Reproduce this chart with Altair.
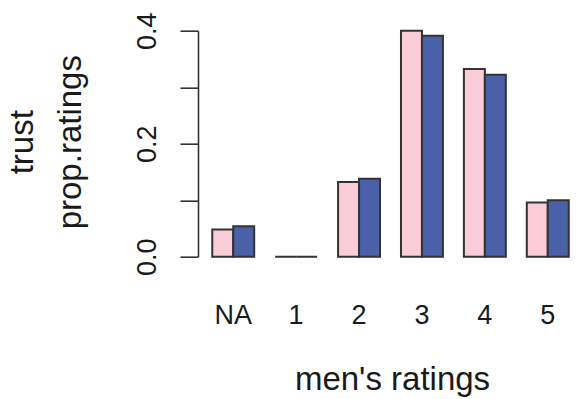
import altair as alt
import pandas as pd

# Proportion of ratings per rating level, two groups side by side
categories = ["NA", "1", "2", "3", "4", "5"]
series_names = ["group 1", "group 2"]
group1_props = [0.048, 0.0, 0.132, 0.400, 0.332, 0.096]
group2_props = [0.054, 0.0, 0.138, 0.391, 0.322, 0.100]
bar_colors = ["#F9CCD7", "#4A60A8"]
y_ticks = [0.0, 0.1, 0.2, 0.3, 0.4]

rows = []
for cat, a, b in zip(categories, group1_props, group2_props):
    rows.append({"rating": cat, "series": series_names[0], "prop": a})
    rows.append({"rating": cat, "series": series_names[1], "prop": b})
df = pd.DataFrame(rows)

FONT = "Liberation Sans"
INK = "#1a1a1a"

chart = (
    alt.Chart(df)
    .mark_bar(stroke="#333333", strokeWidth=2, cornerRadius=0)
    .encode(
        x=alt.X(
            "rating:N",
            sort=categories,
            scale=alt.Scale(paddingInner=1 / 3, paddingOuter=0.2267),
            axis=alt.Axis(
                title="men's ratings",
                domain=False,
                ticks=False,
                grid=False,
                labelAngle=0,
                labelBaseline="alphabetic",
                labelPadding=67,
                labelFontSize=27,
                labelFont=FONT,
                labelColor=INK,
                titleFont=FONT,
                titleFontSize=33,
                titleFontWeight="normal",
                titleColor=INK,
                titleBaseline="alphabetic",
                titleX=194,
                titleY=133,
            ),
        ),
        xOffset=alt.XOffset(
            "series:N",
            sort=series_names,
            scale=alt.Scale(paddingInner=0, paddingOuter=0),
        ),
        y=alt.Y(
            "prop:Q",
            scale=alt.Scale(domain=[0, 0.4], nice=False, zero=True),
            axis=alt.Axis(
                title=["trust", "prop.ratings"],
                values=y_ticks,
                labelExpr="indexof(['0.0','0.2','0.4'], format(datum.value, '.1f')) >= 0 ? format(datum.value, '.1f') : ''",
                labelAngle=270,
                labelAlign="center",
                labelBaseline="alphabetic",
                labelPadding=25,
                labelOverlap=False,
                labelFontSize=27,
                labelFont=FONT,
                labelColor=INK,
                tickSize=18,
                tickWidth=1.6,
                tickColor="#333333",
                domainWidth=1.6,
                domainColor="#333333",
                grid=False,
                titleFont=FONT,
                titleFontSize=33,
                titleFontWeight="normal",
                titleColor=INK,
                titleAngle=270,
                titleAlign="center",
                titleBaseline="alphabetic",
                titleLineHeight=48,
                titleX=-166,
                titleY=111,
            ),
        ),
        color=alt.Color(
            "series:N",
            sort=series_names,
            scale=alt.Scale(domain=series_names, range=bar_colors),
            legend=None,
        ),
    )
    .properties(
        width=385,
        height=226,
        background="white",
        autosize=alt.AutoSizeParams(type="none"),
        padding={"left": 198, "top": 30.7, "right": 0, "bottom": 142.3},
    )
    .configure_view(strokeWidth=0, stroke="transparent")
)

chart.save("out.html", embed_options={"renderer": "svg", "actions": False})
